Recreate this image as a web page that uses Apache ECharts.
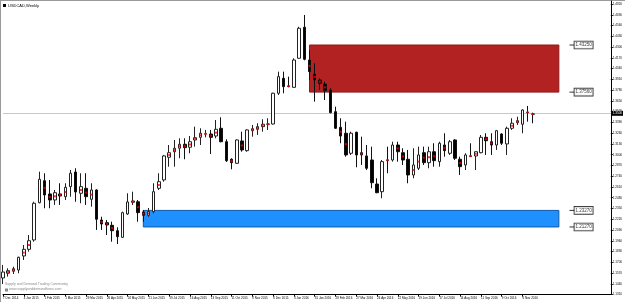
<!DOCTYPE html>
<html><head><meta charset="utf-8">
<script src="https://cdn.jsdelivr.net/npm/echarts@6/dist/echarts.min.js"></script>
<style>html,body{margin:0;padding:0;background:#fff}#c{width:625px;height:302px}</style>
</head><body><div id="c"></div>
<script>
// ---- data ----
const firstWeek = [2014, 11, 7];          // 7 Dec 2014, weekly bars
const barCount = 103;
const emptySlots = 15;                     // chart shift space on the right
const monthNames = ['Jan','Feb','Mar','Apr','May','Jun','Jul','Aug','Sep','Oct','Nov','Dec'];

const opens = [1.1511,1.1568,1.1592,1.1607,1.1777,1.1857,1.1970,1.2420,1.2686,1.2526,1.2453,1.2526,1.2493,1.2614,1.2791,1.2534,1.2594,1.2461,1.2574,1.2211,1.2179,1.2147,1.2082,1.2002,1.2284,1.2425,1.2432,1.2308,1.2268,1.2312,1.2594,1.2695,1.2969,1.3036,1.3078,1.3126,1.3090,1.3178,1.3210,1.3250,1.3250,1.3226,1.3319,1.3157,1.2945,1.2896,1.3166,1.3049,1.3290,1.3307,1.3339,1.3368,1.3371,1.3742,1.3923,1.3830,1.3814,1.4165,1.4540,1.4144,1.3975,1.3903,1.3854,1.3782,1.3520,1.3331,1.3259,1.3017,1.3271,1.3024,1.2985,1.2936,1.2646,1.2553,1.2936,1.2936,1.3117,1.3024,1.2945,1.2755,1.2836,1.3024,1.2904,1.3036,1.2916,1.3117,1.3017,1.3178,1.2945,1.2876,1.2985,1.2985,1.3024,1.3210,1.3157,1.3117,1.3250,1.3130,1.3319,1.3387,1.3368,1.3512,1.3492];
const closes = [1.1583,1.1599,1.1623,1.1761,1.1857,1.1961,1.2413,1.2703,1.2513,1.2453,1.2541,1.2501,1.2606,1.2776,1.2550,1.2614,1.2493,1.2574,1.2220,1.2163,1.2151,1.2082,1.2010,1.2300,1.2429,1.2441,1.2300,1.2268,1.2312,1.2553,1.2674,1.2985,1.3024,1.3078,1.3126,1.3085,1.3157,1.3206,1.3259,1.3252,1.3210,1.3307,1.3157,1.2928,1.2904,1.3178,1.3057,1.3299,1.3314,1.3339,1.3368,1.3371,1.3742,1.3943,1.3822,1.3826,1.4144,1.4527,1.4153,1.4003,1.3903,1.3863,1.3773,1.3508,1.3319,1.3226,1.2997,1.3259,1.2997,1.2997,1.2836,1.2662,1.2541,1.2916,1.2932,1.3117,1.3036,1.2936,1.2755,1.2876,1.2997,1.2904,1.3036,1.2928,1.3138,1.3049,1.3157,1.2957,1.2855,1.2997,1.2981,1.3036,1.3210,1.3169,1.3117,1.3290,1.3138,1.3319,1.3380,1.3411,1.3540,1.3510,1.3490];
const lows = [1.1438,1.1527,1.1559,1.1568,1.1728,1.1829,1.1949,1.2413,1.2353,1.2353,1.2393,1.2393,1.2453,1.2493,1.2432,1.2413,1.2393,1.2372,1.2091,1.2091,1.2030,1.1949,1.1921,1.1995,1.2272,1.2393,1.2191,1.2191,1.2251,1.2292,1.2574,1.2674,1.2855,1.2855,1.2957,1.2945,1.3017,1.3097,1.3117,1.3210,1.3009,1.3198,1.3150,1.2912,1.2824,1.2890,1.3036,1.3036,1.3218,1.3238,1.3278,1.3299,1.3365,1.3721,1.3742,1.3814,1.3810,1.4160,1.4140,1.3903,1.3641,1.3782,1.3661,1.3500,1.3311,1.3138,1.2976,1.2997,1.2848,1.2876,1.2815,1.2594,1.2535,1.2474,1.2776,1.2916,1.2916,1.2876,1.2655,1.2715,1.2815,1.2876,1.2836,1.2855,1.2855,1.2976,1.2997,1.2936,1.2755,1.2815,1.2976,1.2815,1.3017,1.2997,1.2997,1.3057,1.3117,1.2997,1.3299,1.3359,1.3259,1.3399,1.3380];
const highs = [1.1668,1.1628,1.1647,1.1768,1.1909,1.2030,1.2432,1.2795,1.2776,1.2695,1.2574,1.2655,1.2655,1.2815,1.2836,1.2776,1.2776,1.2655,1.2582,1.2251,1.2211,1.2191,1.2123,1.2312,1.2534,1.2553,1.2453,1.2332,1.2356,1.2655,1.2776,1.2997,1.3117,1.3178,1.3198,1.3198,1.3226,1.3339,1.3319,1.3299,1.3299,1.3419,1.3452,1.3186,1.2957,1.3186,1.3278,1.3307,1.3359,1.3380,1.3428,1.3440,1.3749,1.4003,1.4003,1.3943,1.4165,1.4546,1.4688,1.4265,1.4104,1.3923,1.3882,1.3802,1.3580,1.3440,1.3399,1.3278,1.3278,1.3218,1.3117,1.3097,1.2715,1.2936,1.3097,1.3157,1.3157,1.3078,1.3057,1.3078,1.3097,1.3097,1.3097,1.3138,1.3157,1.3259,1.3178,1.3186,1.2976,1.3017,1.3138,1.3040,1.3238,1.3259,1.3259,1.3299,1.3259,1.3339,1.3440,1.3459,1.3549,1.3589,1.3508];
// bars marked with a red base-candle dot
const baseBars = [1,2,4,5,8,9,10,11,12,15,16,17,19,20,21,25,26,27,28,30,32,33,34,35,36,37,38,39,40,41,44,46,48,49,50,51,55,59,60,61,62,65,66,69,74,76,77,79,80,81,82,83,85,88,90,91,93,94,98,99,101,102];

// zones: supply (red) and demand (blue)
const zoneTops = [1.4325, 1.2327];
const zoneBottoms = [1.3756, 1.2127];
const zoneStartBars = [59, 27];
const zoneEndBar = 107;
const zoneLevels = [1.4325, 1.3756, 1.2327, 1.2127];
const levelLabelBar = 110;
const bidPrice = 1.3490;

// axis
const yMin = 1.131, yMax = 1.48567, yStep = 0.013;

// ---- build ----
const categories = [];
for (let i = 0; i < barCount + emptySlots; i++) {
  const d = new Date(Date.UTC(firstWeek[0], firstWeek[1], firstWeek[2] + 7 * i));
  categories.push(d.getUTCDate() + ' ' + monthNames[d.getUTCMonth()] + ' ' + d.getUTCFullYear());
}
const candles = opens.map((o, i) => [o, closes[i], lows[i], highs[i]]);
const dots = baseBars.map(i => [i, (opens[i] + closes[i]) / 2]);
const zoneColors = ['#b22222', '#1e90ff'];
const zoneBorders = ['#8f1b1b', '#0f5aa8'];
const FONT = 'Liberation Sans';
const labelShown = (idx) => idx % 4 === 0 && idx <= 100;

const chart = echarts.init(document.getElementById('c'), null, {renderer: 'canvas'});
chart.setOption({
  animation: false,
  backgroundColor: '#fff',
  grid: {left: 1, right: 13, top: 1, bottom: 7.4, containLabel: false},
  xAxis: {
    type: 'category', data: categories, boundaryGap: false,
    axisLine: {show: true, lineStyle: {color: '#000', width: 1}},
    axisTick: {show: true, length: 2, interval: labelShown, lineStyle: {color: '#000'}},
    axisLabel: {show: true, interval: labelShown, fontSize: 3, fontFamily: FONT, color: '#000', align: 'left', margin: 2.5},
    splitLine: {show: false}
  },
  yAxis: {
    type: 'value', position: 'right', min: yMin, max: yMax, interval: yStep, scale: true,
    axisLine: {show: true, onZero: false, lineStyle: {color: '#000', width: 1}},
    axisTick: {show: true, length: 2, lineStyle: {color: '#000'}},
    axisLabel: {show: true, fontSize: 3, fontFamily: FONT, color: '#000', margin: 2, showMaxLabel: false,
      formatter: v => v.toFixed(4)},
    splitLine: {show: false}
  },
  series: [
    {
      type: 'candlestick', data: candles, barWidth: 3, z: 3,
      itemStyle: {color: '#fff', color0: '#000', borderColor: '#222', borderColor0: '#111', borderWidth: 1},
      markArea: {
        silent: true, z: 1,
        data: zoneTops.map((t, k) => [
          {xAxis: zoneStartBars[k], yAxis: t, itemStyle: {color: zoneColors[k], borderColor: zoneBorders[k], borderWidth: 1}},
          {xAxis: zoneEndBar, yAxis: zoneBottoms[k]}
        ])
      },
      markLine: {
        silent: true, symbol: 'none', z: 2,
        lineStyle: {color: '#c8c8c8', width: 1, type: 'solid'},
        label: {show: true, position: 'end', distance: 1, formatter: p => p.value.toFixed(4),
          backgroundColor: '#000', color: '#fff', fontSize: 3, fontFamily: FONT, padding: [1, 1]},
        data: [{yAxis: bidPrice}]
      }
    },
    {
      type: 'scatter', data: dots, symbol: 'rect', symbolSize: [2, 2], z: 4,
      itemStyle: {color: '#ff0000'}, silent: true
    },
    {
      type: 'scatter', data: zoneLevels.map(v => [levelLabelBar, v]), symbol: 'rect',
      symbolSize: [5, 1], symbolOffset: [-2.5, 0], z: 4, silent: true,
      itemStyle: {color: '#000'},
      label: {show: true, position: 'right', distance: 0, formatter: p => p.value[1].toFixed(5),
        fontSize: 4.5, fontFamily: FONT, color: '#000', backgroundColor: '#fff',
        borderColor: '#000', borderWidth: 0.8, padding: [1, 1]}
    }
  ],
  graphic: [
    {type: 'rect', left: 0, top: 0, shape: {width: 1, height: 302}, style: {fill: '#9a9a9a'}, silent: true},
    {type: 'rect', left: 0, top: 0, shape: {width: 625, height: 1}, style: {fill: '#9a9a9a'}, silent: true},
    {type: 'rect', left: 3, top: 4, shape: {width: 3, height: 3}, style: {fill: '#000'}, silent: true},
    {type: 'text', left: 8, top: 3.5, style: {text: 'USDCAD,Weekly', fontSize: 4, fontFamily: FONT, fill: '#000'}, silent: true},
    {type: 'text', left: 5, top: 282, style: {text: 'Supply and Demand Trading Community', fontSize: 3.5, fontFamily: FONT, fill: '#8a8a8a'}, silent: true},
    {type: 'rect', left: 5, top: 288.5, shape: {width: 3, height: 3}, style: {fill: '#8a8a8a'}, silent: true},
    {type: 'text', left: 9, top: 287.5, style: {text: 'www.supplyanddemandforex.com', fontSize: 3.5, fontFamily: FONT, fill: '#8a8a8a'}, silent: true}
  ]
});
</script></body></html>
